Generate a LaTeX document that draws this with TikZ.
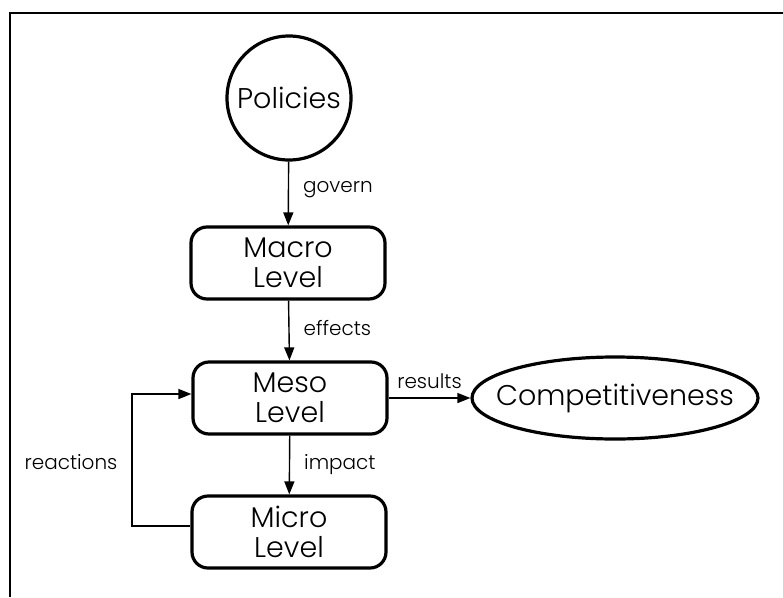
\documentclass[tikz,border=0pt]{standalone}
\usepackage{fontspec}
\setmainfont{Poppins Light}
\usetikzlibrary{arrows.meta,shapes.geometric}
\begin{document}
\begin{tikzpicture}[x=1pt,y=-1pt,
  box/.style={draw,line width=3.2pt,rounded corners=16pt,minimum width=194pt,minimum height=72pt,align=center,inner sep=0pt,font=\fontsize{28.5}{30}\selectfont},
  conn/.style={line width=1.4pt,-{Triangle[length=13pt,width=10pt]}},
  lbl/.style={font=\fontsize{20}{22}\selectfont,inner sep=0pt},
]
\useasboundingbox (0,0) rectangle (783,597);
\draw[line width=1.5pt] (10,597) -- (10,13) -- (783,13);
\node[circle,draw,line width=3.2pt,minimum size=124pt,inner sep=0pt,font=\fontsize{28.5}{30}\selectfont] (pol) at (289,98) {Policies};
\node[box] (mac) at (288,263) {Macro\\Level};
\node[box] (mes) at (290,398) {Meso\\Level};
\node[box] (mic) at (289,532) {Micro\\Level};
\node[ellipse,draw,line width=3.2pt,minimum width=286pt,minimum height=82pt,inner sep=0pt] (comp) at (615,398) {};
\node[font=\fontsize{28.5}{30}\selectfont,inner sep=0pt] (ct) at (comp.center) {Competitiveness};
\draw[conn] (pol) -- (mac) node[lbl,midway,anchor=west,xshift=14pt,yshift=4pt] (g) {govern};
\draw[conn] (mac) -- (mes) node[lbl,midway,anchor=west,xshift=14pt,yshift=2pt] (e) {effects};
\draw[conn] (mes) -- (mic) node[lbl,midway,anchor=west,xshift=14pt,yshift=0pt] (i) {impact};
\draw[conn] (mes.east) -- (comp.west) node[lbl,midway,above=9pt] (r) {results};
\coordinate (c1) at (132,526);
\coordinate (c2) at (132,394);
\draw[conn] ([yshift=6pt]mic.west) -- (c1) -- (c2) -- ([yshift=4pt]mes.west);
\node[lbl] (re) at (71,462) {reactions};
\end{tikzpicture}
\end{document}
